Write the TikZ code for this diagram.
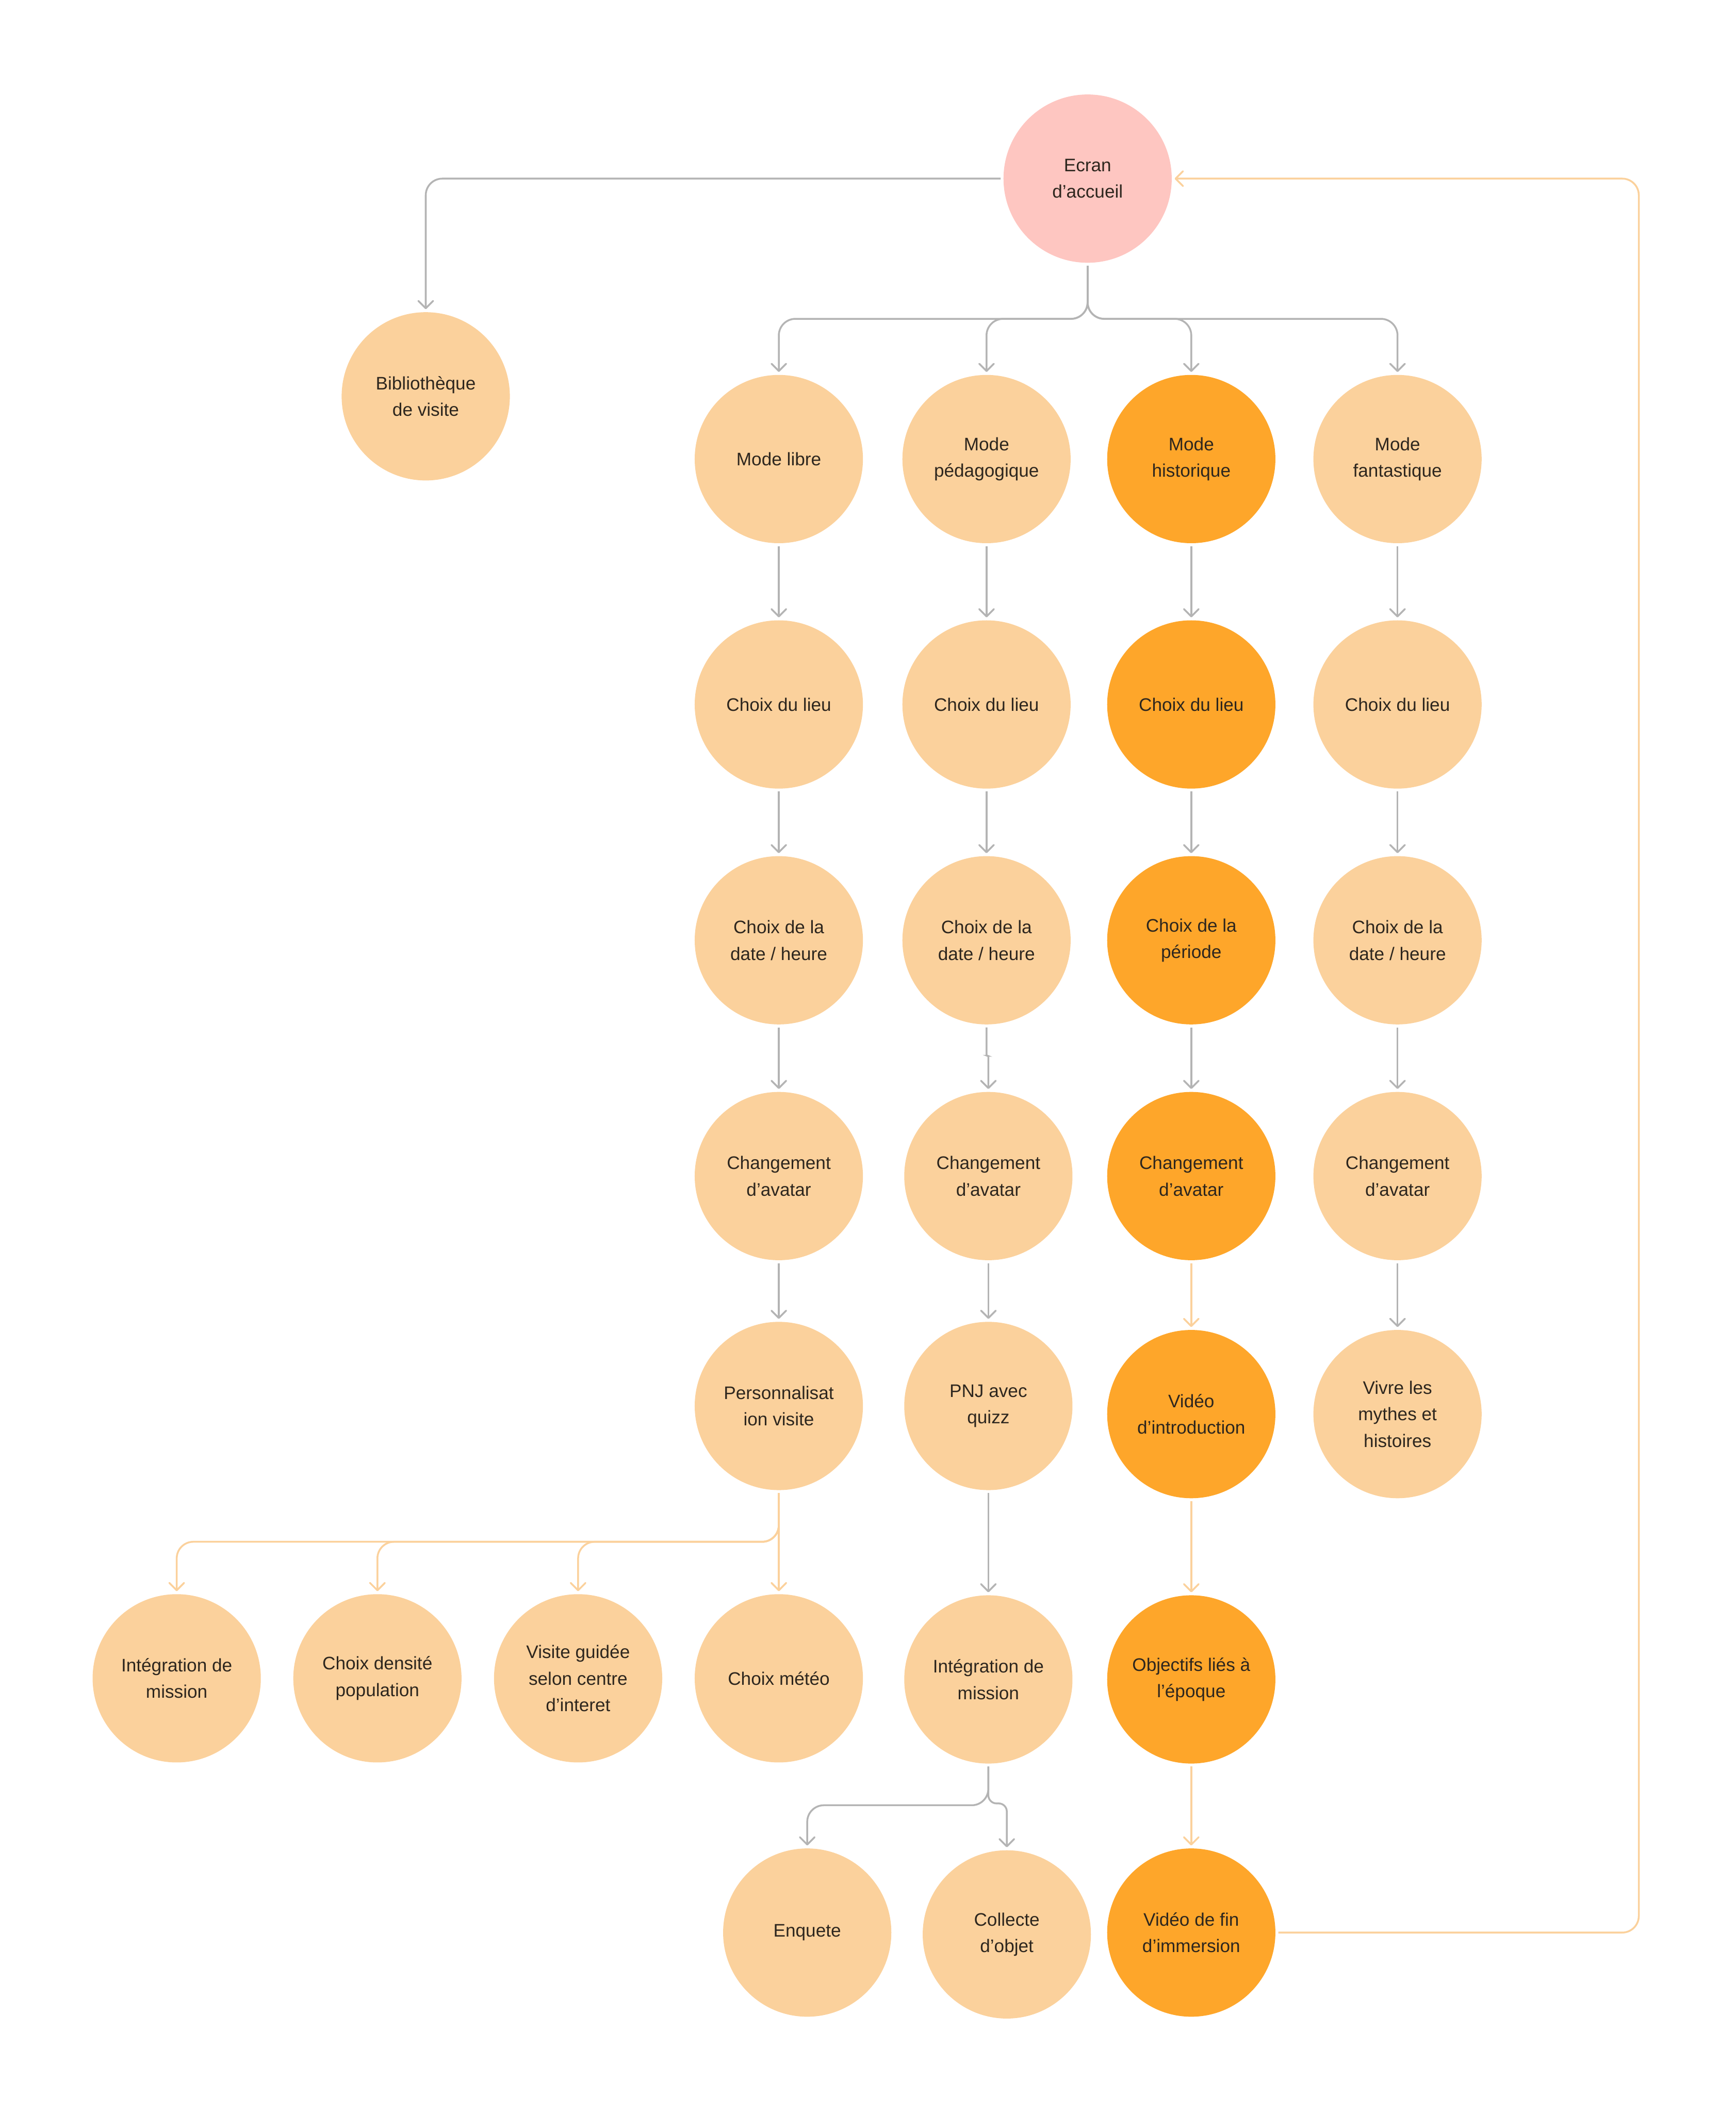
\documentclass[tikz,border=0pt]{standalone}
\usepackage{fontspec}
\setmainfont{Liberation Sans}
\usepackage{tikz}
\usetikzlibrary{arrows.meta}

\definecolor{peach}{RGB}{251,209,156}
\definecolor{amber}{RGB}{254,166,42}
\definecolor{rose}{RGB}{254,198,193}
\definecolor{linegray}{RGB}{180,180,180}
\definecolor{ink}{RGB}{45,38,30}

\begin{document}
\begin{tikzpicture}[
  bubble/.style={circle,fill=peach,minimum size=4.56cm,inner sep=0pt,outer sep=0.08cm,
    align=center,text=ink,font=\fontsize{14}{20.5}\selectfont},
  histbubble/.style={bubble,fill=amber},
  homebubble/.style={bubble,fill=rose},
  link/.style={draw=linegray,line width=1.4pt,rounded corners=0.45cm,
    -{Straight Barb[length=0.2cm,width=0.4cm,round]}},
  orangelink/.style={link,draw=peach}]
  \useasboundingbox (0,0) rectangle (47.05,-57.26);

  \node[homebubble] (ecran) at (29.48,-4.84) {Ecran\\d’accueil};
  \node[bubble] (biblio) at (11.54,-10.74) {Bibliothèque\\de visite};

  \node[bubble] (libre) at (21.11,-12.44) {Mode libre};
  \node[bubble] (peda) at (26.74,-12.44) {Mode\\pédagogique};
  \node[histbubble] (histo) at (32.29,-12.44) {Mode\\historique};
  \node[bubble] (fanta) at (37.88,-12.44) {Mode\\fantastique};

  \node[bubble] (lieu1) at (21.11,-19.09) {Choix du lieu};
  \node[bubble] (lieu2) at (26.74,-19.09) {Choix du lieu};
  \node[histbubble] (lieu3) at (32.29,-19.09) {Choix du lieu};
  \node[bubble] (lieu4) at (37.88,-19.09) {Choix du lieu};

  \node[bubble] (date1) at (21.11,-25.48) {Choix de la\\date / heure};
  \node[bubble] (date2) at (26.74,-25.48) {Choix de la\\date / heure};
  \node[histbubble] (periode) at (32.29,-25.48) {Choix de la\\période};
  \node[bubble] (date4) at (37.88,-25.48) {Choix de la\\date / heure};

  \node[bubble] (avatar1) at (21.11,-31.87) {Changement\\d’avatar};
  \node[bubble] (avatar2) at (26.79,-31.87) {Changement\\d’avatar};
  \node[histbubble] (avatar3) at (32.29,-31.87) {Changement\\d’avatar};
  \node[bubble] (avatar4) at (37.88,-31.87) {Changement\\d’avatar};

  \node[bubble] (perso) at (21.11,-38.10) {Personnalisat\\ion visite};
  \node[bubble] (pnj) at (26.79,-38.10) {PNJ avec\\quizz};
  \node[histbubble] (intro) at (32.29,-38.32) {Vidéo\\d’introduction};
  \node[bubble] (mythes) at (37.88,-38.32) {Vivre les\\mythes et\\histoires};

  \node[bubble] (mission1) at (4.79,-45.48) {Intégration de\\mission};
  \node[bubble] (densite) at (10.23,-45.48) {Choix densité\\population};
  \node[bubble] (guidee) at (15.67,-45.48) {Visite guidée\\selon centre\\d’interet};
  \node[bubble] (meteo) at (21.11,-45.48) {Choix météo};
  \node[bubble] (mission2) at (26.79,-45.51) {Intégration de\\mission};
  \node[histbubble] (objectifs) at (32.29,-45.51) {Objectifs liés à\\l’époque};

  \node[bubble] (enquete) at (21.88,-52.37) {Enquete};
  \node[bubble] (collecte) at (27.29,-52.42) {Collecte\\d’objet};
  \node[histbubble] (fin) at (32.29,-52.37) {Vidéo de fin\\d’immersion};

  \coordinate (split) at (29.48,-8.64);
  \coordinate (fork) at (21.11,-41.78);
  \coordinate (fork2) at (26.79,-48.92);
  \coordinate (back) at (44.42,-4.84);

  \draw[link] (ecran.west) -| (biblio.north);
  \draw[link] (ecran.south) -- (split) -| (libre.north);
  \draw[link] (ecran.south) -- (split) -| (peda.north);
  \draw[link] (ecran.south) -- (split) -| (histo.north);
  \draw[link] (ecran.south) -- (split) -| (fanta.north);

  \draw[link] (libre) -- (lieu1);
  \draw[link] (lieu1) -- (date1);
  \draw[link] (date1) -- (avatar1);
  \draw[link] (avatar1) -- (perso);

  \draw[link] (peda) -- (lieu2);
  \draw[link] (lieu2) -- (date2);
  \draw[link,rounded corners=0.03cm] (date2.south) |- ([yshift=0.9cm]avatar2.north) -- (avatar2.north);
  \draw[link] (avatar2) -- (pnj);
  \draw[link] (pnj) -- (mission2);

  \draw[link] (histo) -- (lieu3);
  \draw[link] (lieu3) -- (periode);
  \draw[link] (periode) -- (avatar3);
  \draw[orangelink] (avatar3) -- (intro);
  \draw[orangelink] (intro) -- (objectifs);
  \draw[orangelink] (objectifs) -- (fin);
  \draw[orangelink] (fin.east) -| (back) -- (ecran.east);

  \draw[link] (fanta) -- (lieu4);
  \draw[link] (lieu4) -- (date4);
  \draw[link] (date4) -- (avatar4);
  \draw[link] (avatar4) -- (mythes);

  \draw[orangelink] (perso.south) -- (fork) -| (mission1.north);
  \draw[orangelink] (perso.south) -- (fork) -| (densite.north);
  \draw[orangelink] (perso.south) -- (fork) -| (guidee.north);
  \draw[orangelink] (perso) -- (meteo);

  \draw[link] (mission2.south) -- (fork2) -| (enquete.north);
  \draw[link,rounded corners=0.22cm] (mission2.south) -- ([yshift=0.05cm]fork2) -| (collecte.north);
\end{tikzpicture}
\end{document}
